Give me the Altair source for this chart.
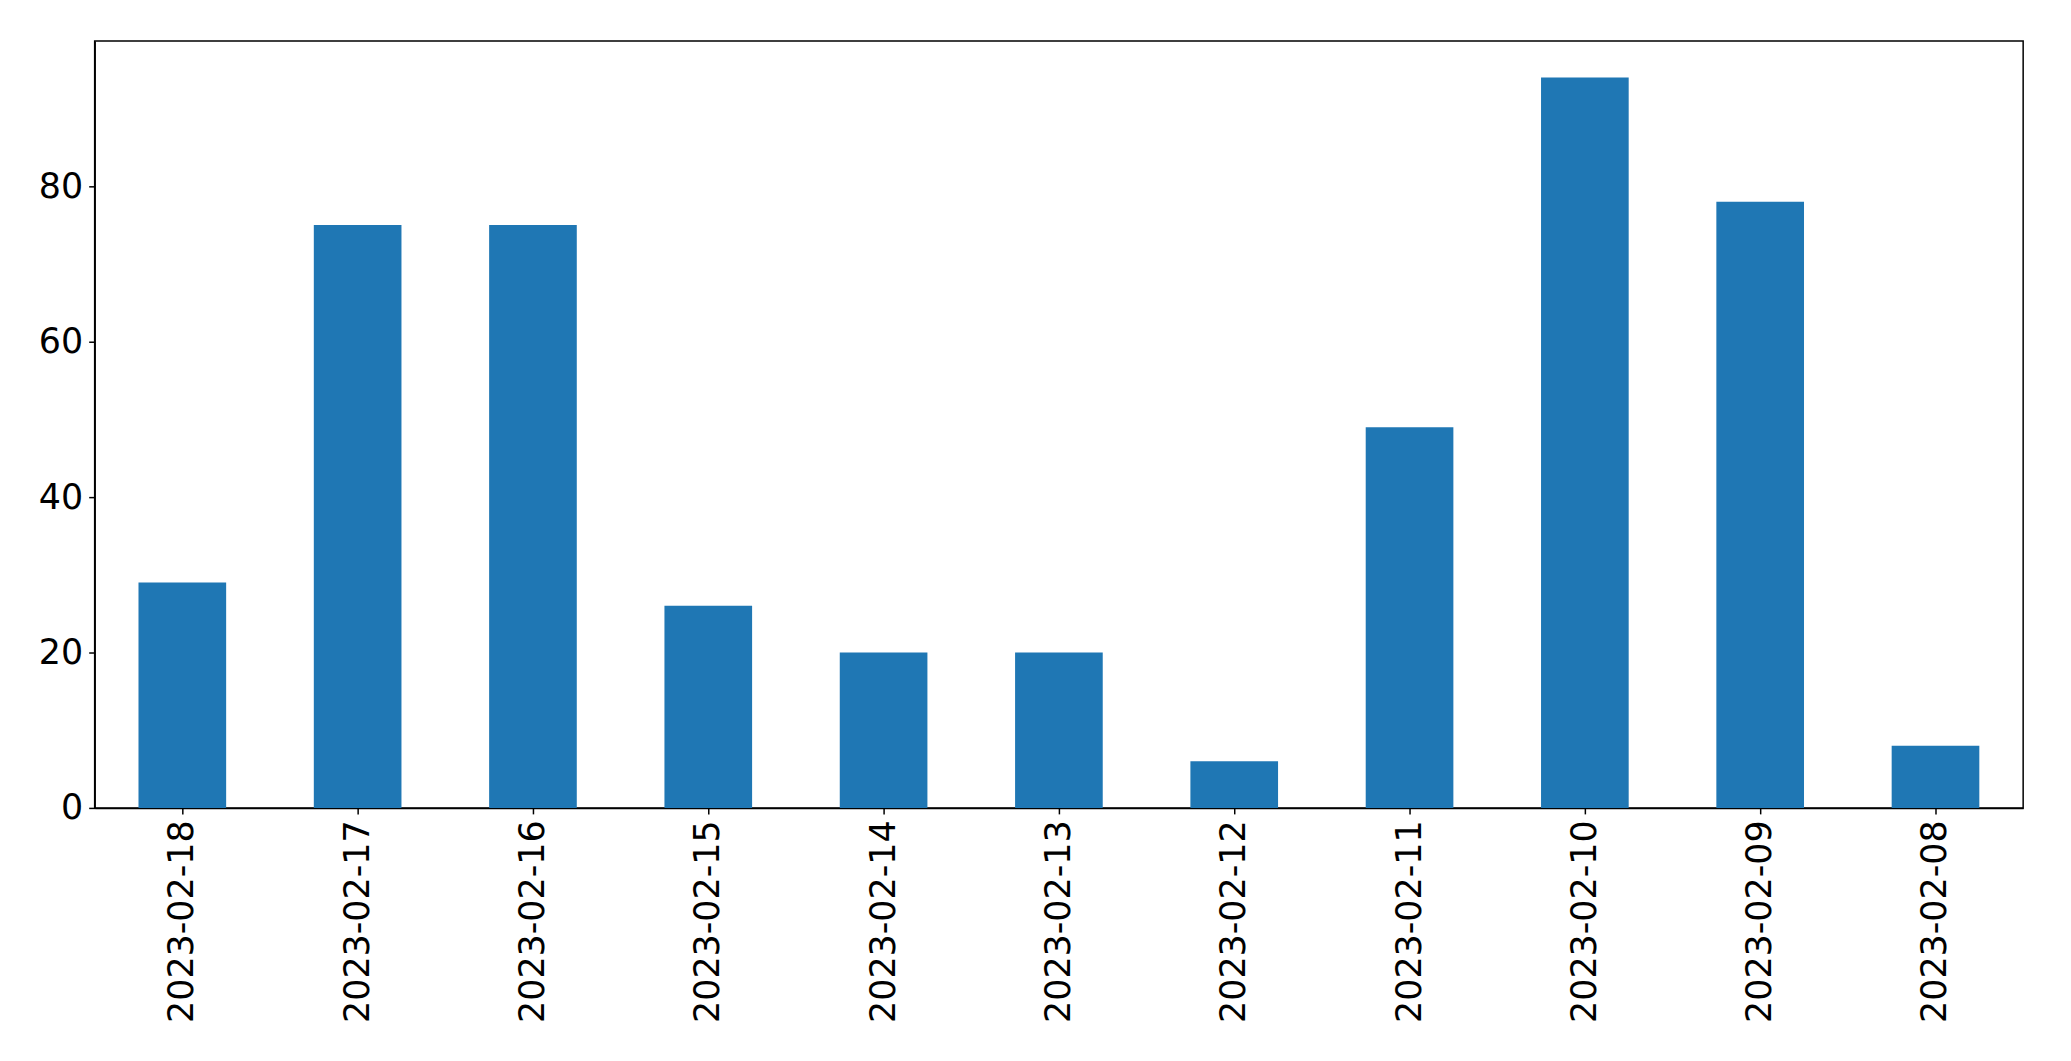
import altair as alt
import pandas as pd

dates = ["2023-02-18", "2023-02-17", "2023-02-16", "2023-02-15", "2023-02-14",
         "2023-02-13", "2023-02-12", "2023-02-11", "2023-02-10", "2023-02-09", "2023-02-08"]
counts = [29, 75, 75, 26, 20, 20, 6, 49, 94, 78, 8]
y_ticks = [0, 20, 40, 60, 80]

df = pd.DataFrame({"date": dates, "count": counts})

chart = alt.Chart(df).mark_bar(color="#1f77b4").encode(
    x=alt.X("date:N", sort=dates, title=None,
            scale=alt.Scale(paddingInner=0.5, paddingOuter=0.25),
            axis=alt.Axis(labelAngle=-90, labelAlign="right", labelBaseline="middle",
                          labelFontSize=35, labelFont="DejaVu Sans", labelColor="black",
                          labelLimit=0, labelPadding=6, tickSize=6, tickColor="black",
                          tickWidth=1.5, domainColor="black", domainWidth=1.5, grid=False)),
    y=alt.Y("count:Q", title=None,
            scale=alt.Scale(domain=[0, 98.7], nice=False, zero=True),
            axis=alt.Axis(values=y_ticks, labelFontSize=35, labelFont="DejaVu Sans",
                          labelColor="black", labelPadding=6, tickSize=6, tickColor="black",
                          tickWidth=1.5, domainColor="black", domainWidth=1.5, grid=False)),
).properties(
    width=1936, height=770,
    autosize=alt.AutoSizeParams(type="none"),
    padding={"left": 87, "top": 31, "right": 40, "bottom": 240},
).configure(background="white").configure_view(stroke="black", strokeWidth=1.5)

chart.save("out.html", embed_options={"renderer": "svg", "actions": False})
